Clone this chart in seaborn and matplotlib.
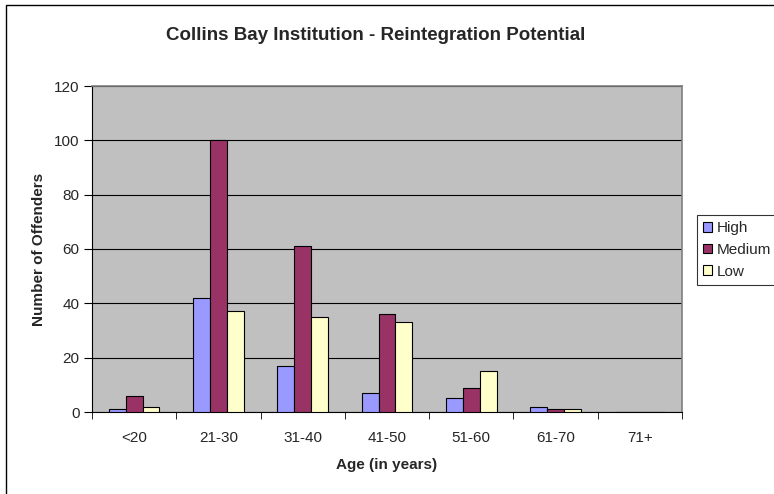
import pandas as pd
import numpy as np
import seaborn as sns
import matplotlib.pyplot as plt
from matplotlib.patches import Rectangle

# Données
age_groups = ["<20", "21-30", "31-40", "41-50", "51-60", "61-70", "71+"]
high = [1, 42, 17, 7, 5, 2, 0]
medium = [6, 100, 61, 36, 9, 1, 0]
low = [2, 37, 35, 33, 15, 1, 0]
levels = ["High", "Medium", "Low"]
colors = ["#9999FF", "#993366", "#FFFFCC"]

df = pd.DataFrame({"Age": age_groups, "High": high, "Medium": medium, "Low": low})
df = df.melt(id_vars="Age", var_name="Potential", value_name="Count")

sns.set_style("white")
plt.rcParams['font.family'] = ['Liberation Sans', 'DejaVu Sans']

fig = plt.figure(figsize=(7.74, 4.94), dpi=100)
ax = fig.add_axes([92 / 774, 1 - 412 / 494, 590 / 774, 326 / 494])
ax.set_facecolor("#C0C0C0")

sns.barplot(data=df, x="Age", y="Count", hue="Potential", hue_order=levels,
            palette=colors, edgecolor="black", linewidth=0.8, width=0.6,
            saturation=1, ax=ax, zorder=3)

ax.set_ylim(0, 120)
ax.set_yticks(np.arange(0, 121, 20))
ax.set_xlim(-0.5, len(age_groups) - 0.5)
ax.yaxis.grid(True, color="black", linewidth=0.8, zorder=0)
ax.set_axisbelow(True)

# graduations entre les catégories comme dans Excel
ax.set_xticks(np.arange(-0.5, len(age_groups), 1.0), minor=True)
ax.tick_params(axis="x", which="major", length=0, labelsize=11, pad=14)
ax.tick_params(axis="x", which="minor", length=5, color="black", direction="out")
ax.tick_params(axis="y", length=6, color="black", direction="out", labelsize=11, pad=3)
ax.tick_params(bottom=True, left=True, which="both")

for side in ["left", "bottom"]:
    ax.spines[side].set_color("black")
    ax.spines[side].set_linewidth(0.8)
for side in ["top", "right"]:
    ax.spines[side].set_visible(True)
    ax.spines[side].set_color("#808080")
    ax.spines[side].set_linewidth(1.2)

ax.set_xlabel("Age (in years)", fontsize=11, fontweight="bold", labelpad=9)
ax.set_ylabel("Number of Offenders", fontsize=11, fontweight="bold", labelpad=6)
fig.text(376 / 774, 1 - 35 / 494, "Collins Bay Institution - Reintegration Potential",
         ha="center", va="center", fontsize=13.5, fontweight="bold")

leg = ax.legend(loc="center left", bbox_to_anchor=(697 / 774, 1 - 250 / 494),
                bbox_transform=fig.transFigure, frameon=True, fontsize=11,
                handlelength=0.6, handleheight=0.6, handletextpad=0.3,
                borderpad=0.4, labelspacing=0.5, fancybox=False, borderaxespad=0)
leg.get_frame().set_edgecolor("black")
leg.get_frame().set_linewidth(0.8)

# cadre autour de la figure (dépasse à droite et en bas)
fig.patches.append(Rectangle((6 / 774, -0.1), 1.1, 1.1 - 5 / 494,
                             transform=fig.transFigure, fill=False,
                             edgecolor="black", linewidth=1.0))

fig.savefig("out.png", dpi=100)
